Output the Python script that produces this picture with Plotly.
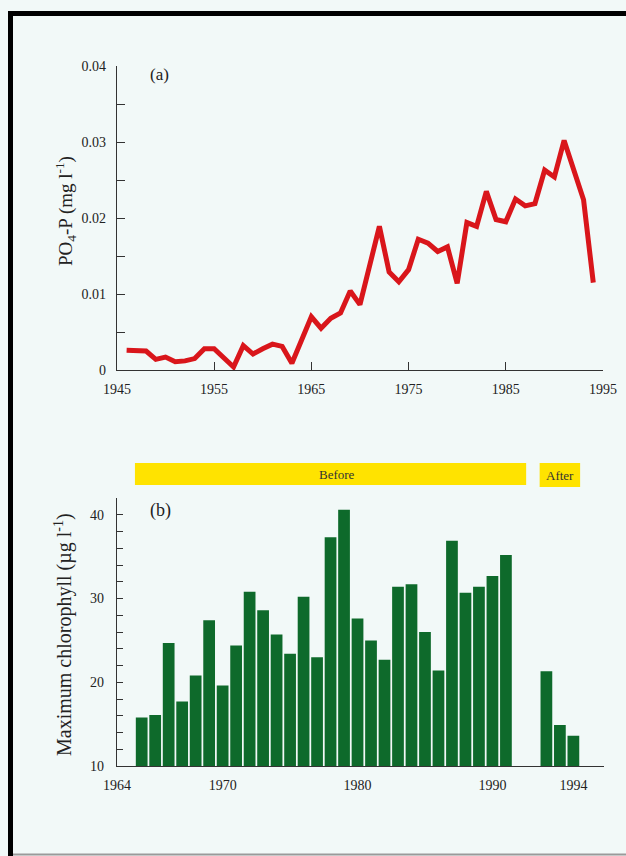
import plotly.graph_objects as go

# ---- (a) Dissolved phosphate, annual means ----
po4_years = [1946, 1948, 1949, 1950, 1951, 1952, 1953, 1954, 1955, 1957,
             1958, 1959, 1960, 1961, 1962, 1963, 1965, 1966, 1967, 1968,
             1969, 1970, 1972, 1973, 1974, 1975, 1976, 1977, 1978, 1979,
             1980, 1981, 1982, 1983, 1984, 1985, 1986, 1987, 1988, 1989,
             1990, 1991, 1993, 1994]
po4_values = [0.0026, 0.0025, 0.0014, 0.0017, 0.0011, 0.0012, 0.0015, 0.0028, 0.0028, 0.0004,
              0.0032, 0.0021, 0.0028, 0.0034, 0.0031, 0.0009, 0.0070, 0.0055, 0.0068, 0.0075,
              0.0104, 0.0086, 0.0189, 0.0129, 0.0116, 0.0132, 0.0172, 0.0167, 0.0156, 0.0162,
              0.0114, 0.0194, 0.0189, 0.0235, 0.0198, 0.0195, 0.0225, 0.0216, 0.0219, 0.0263,
              0.0254, 0.0302, 0.0224, 0.0115]
po4_ticks = [1945, 1955, 1965, 1975, 1985, 1995]

# ---- (b) Maximum chlorophyll, before and after ----
chl_before_years = [str(y) for y in range(1964, 1992)]
chl_before = [15.8, 16.1, 24.7, 17.7, 20.8, 27.4, 19.6, 24.4, 30.8, 28.6,
              25.7, 23.4, 30.2, 23.0, 37.3, 40.6, 27.6, 25.0, 22.7, 31.4,
              31.7, 26.0, 21.4, 36.9, 30.7, 31.4, 32.7, 35.2]
chl_after_years = ["1992", "1993", "1994"]
chl_after = [21.3, 14.9, 13.6]
chl_tick_labels = ["1964", "1970", "1980", "1990", "1994"]

# category order: before years, two empty slots, after years
spacers = ["sp1", "sp2"]
categories = chl_before_years + spacers + chl_after_years

FONT = "Liberation Serif"
INK = "#222222"
BG = "#F2F9F8"
RED = "#D9161B"
GREEN = "#0E6A2B"
YELLOW = "#FFE300"

W, H = 626, 856


def px(x):
    return x / W


def py(y):
    return 1 - y / H


fig = go.Figure()

fig.add_trace(go.Scatter(
    x=po4_years, y=po4_values, mode="lines",
    line=dict(color=RED, width=5), xaxis="x", yaxis="y",
    showlegend=False, hoverinfo="skip",
))

fig.add_trace(go.Bar(
    x=chl_before_years + chl_after_years, y=chl_before + chl_after,
    base=None, marker=dict(color=GREEN, line=dict(width=0)),
    xaxis="x2", yaxis="y2", showlegend=False, hoverinfo="skip",
))

tickfont = dict(family=FONT, size=14, color=INK)
axline = dict(showline=True, linecolor="#333333", linewidth=1.3,
              showgrid=False, zeroline=False, mirror=False,
              automargin=False, tickfont=tickfont,
              tickcolor="#333333", tickwidth=1.2)

chl_start = -1.83
chl_tickvals = [chl_start] + [categories.index(t) for t in chl_tick_labels[1:]]

fig.update_layout(
    width=W, height=H, template="none",
    margin=dict(l=0, r=0, t=0, b=0),
    paper_bgcolor=BG, plot_bgcolor=BG,
    bargap=0.13,
    xaxis=dict(
        domain=[px(116.9), px(603)], anchor="y",
        range=[1945, 1995], tickmode="array", tickvals=po4_ticks,
        ticks="inside", ticklen=8, ticklabelstandoff=6, **axline,
    ),
    yaxis=dict(
        domain=[py(370), py(66)], anchor="x",
        range=[0, 0.04], tickmode="array",
        tickvals=[0, 0.01, 0.02, 0.03, 0.04],
        ticktext=["0", "0.01", "0.02", "0.03", "0.04"],
        ticks="inside", ticklen=8, ticklabelstandoff=7,
        minor=dict(tickmode="array", tickvals=[0.005, 0.015, 0.025, 0.035],
                   ticks="inside", ticklen=8, tickcolor="#333333", tickwidth=1.2),
        **axline,
    ),
    xaxis2=dict(
        domain=[px(117), px(604)], anchor="y2",
        type="category", categoryorder="array", categoryarray=categories,
        range=[chl_start, 34.27], tickmode="array",
        tickvals=chl_tickvals, ticktext=chl_tick_labels,
        ticks="", ticklabelstandoff=6, **axline,
    ),
    yaxis2=dict(
        domain=[py(766), py(498)], anchor="x2",
        range=[10, 42], tickmode="array", tickvals=[10, 20, 30, 40],
        ticks="inside", ticklen=6, ticklabelstandoff=9,
        minor=dict(tickmode="array",
                   tickvals=[12, 14, 16, 18, 22, 24, 26, 28, 32, 34, 36, 38, 42],
                   ticks="inside", ticklen=6, tickcolor="#333333", tickwidth=1.2),
        **axline,
    ),
)

# "Before" / "After" periods above the bar chart
fig.add_shape(type="rect", xref="x2", yref="paper",
              x0=-0.5, x1=28.5, y0=py(485), y1=py(463),
              fillcolor=YELLOW, line=dict(width=0), layer="below")
fig.add_shape(type="rect", xref="x2", yref="paper",
              x0=29.5, x1=32.5, y0=py(487), y1=py(463),
              fillcolor=YELLOW, line=dict(width=0), layer="below")

# page frame (top and left edges)
fig.add_shape(type="line", xref="paper", yref="paper",
              x0=px(8), x1=1.0, y0=py(13.5), y1=py(13.5),
              line=dict(color="black", width=5))
fig.add_shape(type="line", xref="paper", yref="paper",
              x0=px(10.5), x1=px(10.5), y0=py(11), y1=0,
              line=dict(color="black", width=5))
fig.add_shape(type="line", xref="paper", yref="paper",
              x0=px(13), x1=1.0, y0=py(854.5), y1=py(854.5),
              line=dict(color="#9A9A9A", width=2))

ann = []
ann.append(dict(text="PO<sub>4</sub>-P (mg l<sup>-1</sup>)", x=px(65), y=py(211),
                xref="paper", yref="paper", textangle=-90, showarrow=False,
                xanchor="center", yanchor="middle",
                font=dict(family=FONT, size=19, color=INK)))
ann.append(dict(text="Maximum chlorophyll (µg l<sup>-1</sup>)", x=px(63), y=py(635),
                xref="paper", yref="paper", textangle=-90, showarrow=False,
                xanchor="center", yanchor="middle",
                font=dict(family=FONT, size=20, color=INK)))
ann.append(dict(text="(a)", x=px(159), y=py(74), xref="paper", yref="paper",
                showarrow=False, xanchor="center", yanchor="middle",
                font=dict(family=FONT, size=17, color=INK)))
ann.append(dict(text="(b)", x=px(160), y=py(510), xref="paper", yref="paper",
                showarrow=False, xanchor="center", yanchor="middle",
                font=dict(family=FONT, size=18, color=INK)))
ann.append(dict(text="Before", x=14.5, y=py(474), xref="x2", yref="paper",
                showarrow=False, xanchor="center", yanchor="middle",
                font=dict(family=FONT, size=13, color="#333333")))
ann.append(dict(text="After", x=31, y=py(475), xref="x2", yref="paper",
                showarrow=False, xanchor="center", yanchor="middle",
                font=dict(family=FONT, size=13, color="#333333")))
fig.update_layout(annotations=ann)

fig.write_html("out.html")
